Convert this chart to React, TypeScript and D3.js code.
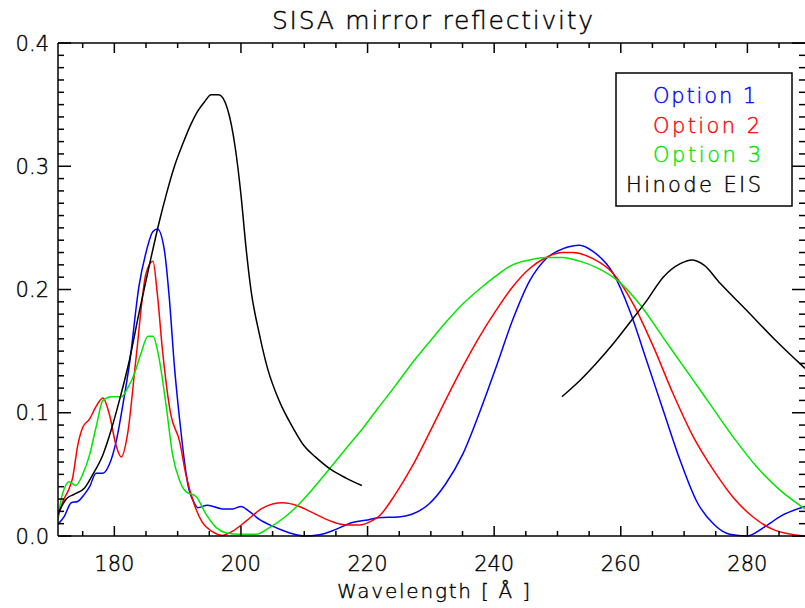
import React from 'react';
import * as d3 from 'd3';

// reflectivity curves, [wavelength (Å), reflectivity]
const option1: [number, number][] = [
  [171.0, 0.009], [172.1, 0.016], [173.2, 0.027], [174.2, 0.028], [175.3, 0.034],
  [176.1, 0.040], [177.1, 0.051], [178.2, 0.051], [179.2, 0.058], [180.3, 0.077],
  [181.3, 0.105], [182.4, 0.140], [183.9, 0.203], [185.0, 0.230], [186.1, 0.247],
  [186.8, 0.249], [187.9, 0.232], [188.7, 0.192], [189.5, 0.137], [190.3, 0.095],
  [190.8, 0.072], [191.6, 0.042], [192.6, 0.027], [193.2, 0.023], [194.7, 0.025],
  [197.1, 0.022], [198.7, 0.022], [200.0, 0.024], [201.3, 0.020], [202.9, 0.0135],
  [205.0, 0.008], [207.6, 0.0027], [210.0, 0.0], [212.4, 0.001], [215.0, 0.0054],
  [217.6, 0.011], [219.7, 0.0127], [221.7, 0.0149], [224.9, 0.0154], [227.0, 0.0176],
  [229.7, 0.026], [232.3, 0.042], [235.0, 0.066], [237.6, 0.099], [240.3, 0.137],
  [242.9, 0.175], [245.6, 0.207], [248.2, 0.225], [250.8, 0.233], [253.5, 0.236],
  [255.6, 0.231], [258.8, 0.213], [261.4, 0.183], [264.1, 0.142], [266.7, 0.102],
  [269.4, 0.061], [272.0, 0.028], [274.7, 0.0095], [277.2, 0.0014], [279.9, 0.0],
  [282.6, 0.007], [285.2, 0.016], [289.1, 0.024],
];

const option2: [number, number][] = [
  [171.0, 0.013], [171.8, 0.027], [172.9, 0.039], [173.4, 0.047], [174.2, 0.073],
  [175.0, 0.088], [176.1, 0.095], [177.1, 0.105], [178.2, 0.112], [179.2, 0.099],
  [180.3, 0.073], [181.1, 0.064], [182.1, 0.083], [183.4, 0.143], [185.0, 0.213],
  [186.1, 0.223], [186.8, 0.196], [187.6, 0.151], [188.9, 0.099], [190.3, 0.077],
  [191.3, 0.050], [192.6, 0.026], [193.9, 0.011], [195.5, 0.0035], [197.0, 0.0005],
  [198.7, 0.004], [200.8, 0.012], [203.2, 0.022], [205.0, 0.026], [206.6, 0.027],
  [208.7, 0.025], [211.3, 0.019], [213.9, 0.0127], [216.6, 0.0089], [218.7, 0.0089],
  [220.8, 0.0127], [221.8, 0.016], [224.4, 0.034], [227.0, 0.056], [229.7, 0.083],
  [232.3, 0.110], [235.0, 0.137], [237.6, 0.161], [240.3, 0.183], [242.9, 0.202],
  [245.6, 0.217], [248.2, 0.226], [250.8, 0.230], [252.4, 0.230], [255.6, 0.225],
  [258.8, 0.213], [262.0, 0.188], [265.2, 0.153], [268.3, 0.115], [271.5, 0.080],
  [274.7, 0.053], [277.8, 0.031], [281.0, 0.015], [284.2, 0.005], [289.1, 0.0],
];

const option3: [number, number][] = [
  [171.0, 0.012], [171.8, 0.034], [172.9, 0.044], [173.9, 0.041], [175.0, 0.050],
  [176.1, 0.066], [177.1, 0.088], [178.2, 0.110], [179.5, 0.113], [181.1, 0.113],
  [182.1, 0.120], [183.2, 0.132], [184.2, 0.148], [185.3, 0.162], [186.1, 0.162],
  [187.0, 0.146], [188.2, 0.105], [189.2, 0.066], [190.3, 0.045], [191.3, 0.036],
  [192.9, 0.032], [194.5, 0.0176], [196.1, 0.0068], [197.6, 0.0027], [200.0, 0.0014],
  [202.4, 0.0014], [204.5, 0.0068], [207.1, 0.016], [209.2, 0.026], [211.3, 0.038],
  [213.9, 0.054], [216.6, 0.071], [219.2, 0.087], [221.7, 0.104], [224.4, 0.122],
  [227.0, 0.140], [229.7, 0.157], [232.3, 0.173], [235.0, 0.188], [237.6, 0.200],
  [240.3, 0.211], [242.9, 0.220], [245.6, 0.224], [248.2, 0.226], [250.8, 0.226],
  [253.5, 0.223], [256.1, 0.218], [259.8, 0.206], [263.0, 0.188], [266.7, 0.161],
  [270.4, 0.134], [274.1, 0.107], [277.8, 0.080], [281.5, 0.056], [285.2, 0.037],
  [289.1, 0.022],
];

// Hinode EIS: two wavebands
const eisShort: [number, number][] = [
  [171.0, 0.017], [172.4, 0.030], [173.7, 0.034], [175.3, 0.039], [176.6, 0.050],
  [178.2, 0.066], [179.5, 0.086], [180.8, 0.110], [182.4, 0.143], [183.9, 0.181],
  [185.5, 0.219], [187.1, 0.255], [188.2, 0.277], [189.5, 0.300], [190.8, 0.318],
  [192.0, 0.333], [193.2, 0.345], [194.2, 0.352], [195.3, 0.358], [196.5, 0.358],
  [197.9, 0.346], [199.1, 0.315], [200.0, 0.277], [200.8, 0.234], [201.6, 0.199],
  [202.9, 0.164], [204.2, 0.136], [206.1, 0.109], [208.2, 0.088], [210.0, 0.073],
  [211.8, 0.064], [214.2, 0.054], [216.6, 0.047], [219.1, 0.041],
];

const eisLong: [number, number][] = [
  [250.7, 0.113], [253.5, 0.126], [256.1, 0.140], [258.8, 0.156], [261.4, 0.173],
  [264.1, 0.191], [266.7, 0.210], [269.4, 0.221], [271.2, 0.224], [273.1, 0.220],
  [275.7, 0.205], [279.9, 0.183], [284.2, 0.160], [289.1, 0.136],
];

const xTicks = [180, 200, 220, 240, 260, 280];
const yTicks = [0.0, 0.1, 0.2, 0.3, 0.4];

const legendNames = ['Option 1', 'Option 2', 'Option 3', 'Hinode EIS'];
const colors = ['#0000ff', '#ff0000', '#00e600', '#000000'];

const font = "'DejaVu Sans', sans-serif";
const textLine = 0.4;

const App = () => {
  const width = 805;
  const height = 608;
  const margin = { top: 43, right: 0, bottom: 72, left: 58 };

  const x = d3.scaleLinear()
    .domain([171.1, 289.1])
    .range([margin.left, width - margin.right]);
  const y = d3.scaleLinear()
    .domain([0, 0.4])
    .range([height - margin.bottom, margin.top]);

  const line = d3.line<[number, number]>()
    .x(d => x(d[0]))
    .y(d => y(d[1]))
    .curve(d3.curveMonotoneX);

  const x0 = margin.left;
  const x1 = width - margin.right;
  const y0 = height - margin.bottom;
  const y1 = margin.top;

  const xMinor = d3.range(175, 290, 5).filter(v => v % 20 !== 0);
  const yMinor = d3.range(1, 40).map(v => v / 100).filter((v, i) => (i + 1) % 10 !== 0);

  const series = [
    { data: option1, color: colors[0] },
    { data: option2, color: colors[1] },
    { data: option3, color: colors[2] },
    { data: eisShort, color: colors[3] },
    { data: eisLong, color: colors[3] },
  ];

  const legendX = [653, 653, 653, 626];
  const legendW = [103, 107, 108, 135];

  return (
    <svg width={width} height={height} style={{ position: 'absolute', left: 0, top: 0, background: '#fff' }}>
      <defs>
        <clipPath id="plot">
          <rect x={x0} y={y1 - 1} width={x1 - x0} height={y0 - y1 + 2} />
        </clipPath>
      </defs>

      {/* data lines */}
      <g clipPath="url(#plot)" fill="none" strokeWidth={1.5}>
        {series.map((s, i) => (
          <path key={i} d={line(s.data) || ''} stroke={s.color} />
        ))}
      </g>

      {/* axes box */}
      <g stroke="#000" strokeWidth={1.5}>
        <line x1={x0} x2={x1} y1={y0} y2={y0} />
        <line x1={x0} x2={x1} y1={y1} y2={y1} />
        <line x1={x0} x2={x0} y1={y0} y2={y1} />
        {xTicks.map(t => (
          <g key={'xt' + t}>
            <line x1={x(t)} x2={x(t)} y1={y0} y2={y0 - 10} />
            <line x1={x(t)} x2={x(t)} y1={y1} y2={y1 + 10} />
          </g>
        ))}
        {xMinor.map(t => (
          <g key={'xm' + t}>
            <line x1={x(t)} x2={x(t)} y1={y0} y2={y0 - 5} />
            <line x1={x(t)} x2={x(t)} y1={y1} y2={y1 + 5} />
          </g>
        ))}
        {yTicks.map(t => (
          <g key={'yt' + t}>
            <line x1={x0} x2={x0 + 13} y1={y(t)} y2={y(t)} />
            <line x1={x1} x2={x1 - 13} y1={y(t)} y2={y(t)} />
          </g>
        ))}
        {yMinor.map(t => (
          <g key={'ym' + t}>
            <line x1={x0} x2={x0 + 6} y1={y(t)} y2={y(t)} />
            <line x1={x1} x2={x1 - 6} y1={y(t)} y2={y(t)} />
          </g>
        ))}
      </g>

      {/* tick labels */}
      <g fontFamily={font} fontWeight={300} fontSize={21} fill="#000" stroke="#000" strokeWidth={textLine}>
        {xTicks.map(t => (
          <text key={'xl' + t} x={x(t)} y={y0 + 35} textAnchor="middle">{t}</text>
        ))}
        {yTicks.map(t => (
          <text key={'yl' + t} x={x0 - 9} y={y(t)} dy="0.36em" textAnchor="end">{t.toFixed(1)}</text>
        ))}
      </g>

      {/* titles */}
      <g fontFamily={font} fontWeight={300} fill="#000" stroke="#000" strokeWidth={textLine}>
        <text x={272} y={29} fontSize={25} textLength={321} lengthAdjust="spacing">
          SISA mirror reflectivity
        </text>
        <text x={337} y={598} fontSize={20} textLength={193} lengthAdjust="spacing">
          Wavelength [ Å ]
        </text>
      </g>

      {/* legend */}
      <rect x={616} y={73} width={176} height={133} fill="#fff" stroke="#000" strokeWidth={1.5} />
      <g fontFamily={font} fontWeight={300} fontSize={21} strokeWidth={textLine}>
        {legendNames.map((n, i) => (
          <text key={n} x={legendX[i]} y={103 + i * 29.6} fill={colors[i]} stroke={colors[i]}
            textLength={legendW[i]} lengthAdjust="spacing">{n}</text>
        ))}
      </g>
    </svg>
  );
};

export default App;
